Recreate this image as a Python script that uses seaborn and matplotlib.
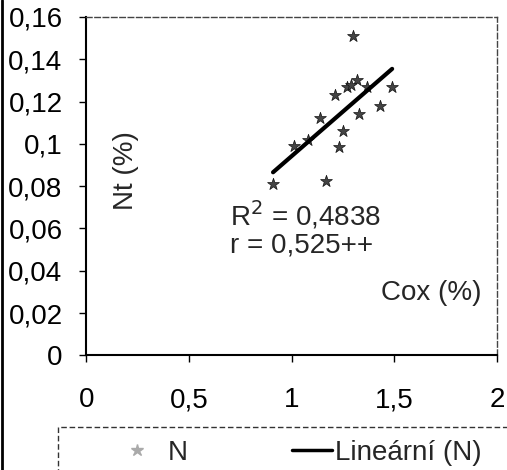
import numpy as np
import pandas as pd
import matplotlib
matplotlib.use("Agg")
import matplotlib.pyplot as plt
import seaborn as sns
from matplotlib.ticker import FuncFormatter
from matplotlib.lines import Line2D
from matplotlib.patches import Rectangle

# values
cox = [1.30, 1.27, 1.32, 1.29, 1.21, 1.49, 1.37, 1.43, 1.33, 1.14, 1.25,
       1.23, 1.01, 1.08, 0.91, 1.17]
nt = [0.151, 0.127, 0.130, 0.128, 0.123, 0.127, 0.127, 0.118, 0.114, 0.112,
      0.106, 0.0987, 0.099, 0.102, 0.0812, 0.0826]
x_ticks = [0, 0.5, 1, 1.5, 2]
y_ticks = [0, 0.02, 0.04, 0.06, 0.08, 0.10, 0.12, 0.14, 0.16]

df = pd.DataFrame({"Cox": cox, "Nt": nt})

sns.set_theme(style="white")
plt.rcParams["font.family"] = ["Liberation Sans", "DejaVu Sans"]

fig = plt.figure(figsize=(5.07, 4.70), dpi=100)
ax = fig.add_axes([0.170, 0.244, 0.810, 0.720])

sns.scatterplot(data=df, x="Cox", y="Nt", ax=ax, marker="*", s=80,
                color="#444444", edgecolor="#111111", linewidth=0.5)
sns.regplot(data=df, x="Cox", y="Nt", ax=ax, scatter=False, ci=None,
            truncate=True, line_kws={"color": "black", "lw": 3})

ax.set_xlim(0, 2)
ax.set_ylim(0, 0.16)
ax.set_xticks(x_ticks)
ax.set_yticks(y_ticks)
comma = FuncFormatter(lambda v, p: ("%g" % v).replace(".", ","))
ax.xaxis.set_major_formatter(comma)
ax.yaxis.set_major_formatter(comma)
ax.tick_params(axis="both", labelsize=20, length=5, width=1, direction="out",
               colors="black", bottom=True, left=True)
ax.tick_params(axis="y", pad=12)
ax.tick_params(axis="x", pad=18)
ax.set_xlabel("")
ax.set_ylabel("")

for side in ["left", "bottom"]:
    ax.spines[side].set_color("black")
    ax.spines[side].set_linewidth(1.5)
for side in ["top", "right"]:
    ax.spines[side].set_color("#444444")
    ax.spines[side].set_linewidth(1)
    ax.spines[side].set_linestyle((0, (4, 2)))

ax.text(0.098, 0.547, "Nt (%)", transform=ax.transAxes, rotation=90,
        fontsize=20, ha="center", va="center")
ax.text(0.350, 0.415, "R$^2$ = 0,4838", transform=ax.transAxes,
        fontsize=20, ha="left", va="center")
ax.text(0.350, 0.324, "r = 0,525++", transform=ax.transAxes,
        fontsize=20, ha="left", va="center")
ax.text(0.963, 0.185, "Cox (%)", transform=ax.transAxes,
        fontsize=20, ha="right", va="center")

# legend box (bottom part runs off the figure, as in the scan)
fig.add_artist(Rectangle((58 / 507, -0.1), 1.0, (470 - 427) / 470 + 0.1,
                         transform=fig.transFigure, fill=False,
                         edgecolor="#333333", lw=1, ls=(0, (4, 2))))
pt_handle = Line2D([], [], marker="*", ls="none", color="#aaaaaa", markersize=9)
ln_handle = Line2D([], [], color="black", lw=2.5)
leg_y = 1 - 453 / 470
fig.legend([pt_handle], ["N"], loc="center left",
           bbox_to_anchor=(123 / 507, leg_y), fontsize=20, frameon=False,
           handlelength=1.0, handletextpad=0.6, borderpad=0, borderaxespad=0)
fig.legend([ln_handle], ["Lineární (N)"], loc="center left",
           bbox_to_anchor=(292 / 507, leg_y), fontsize=20, frameon=False,
           handlelength=1.44, handletextpad=0.1, borderpad=0, borderaxespad=0)

fig.add_artist(Line2D([0.004, 0.004], [0, 1], color="black", lw=2))

fig.savefig("out.png", dpi=100)
